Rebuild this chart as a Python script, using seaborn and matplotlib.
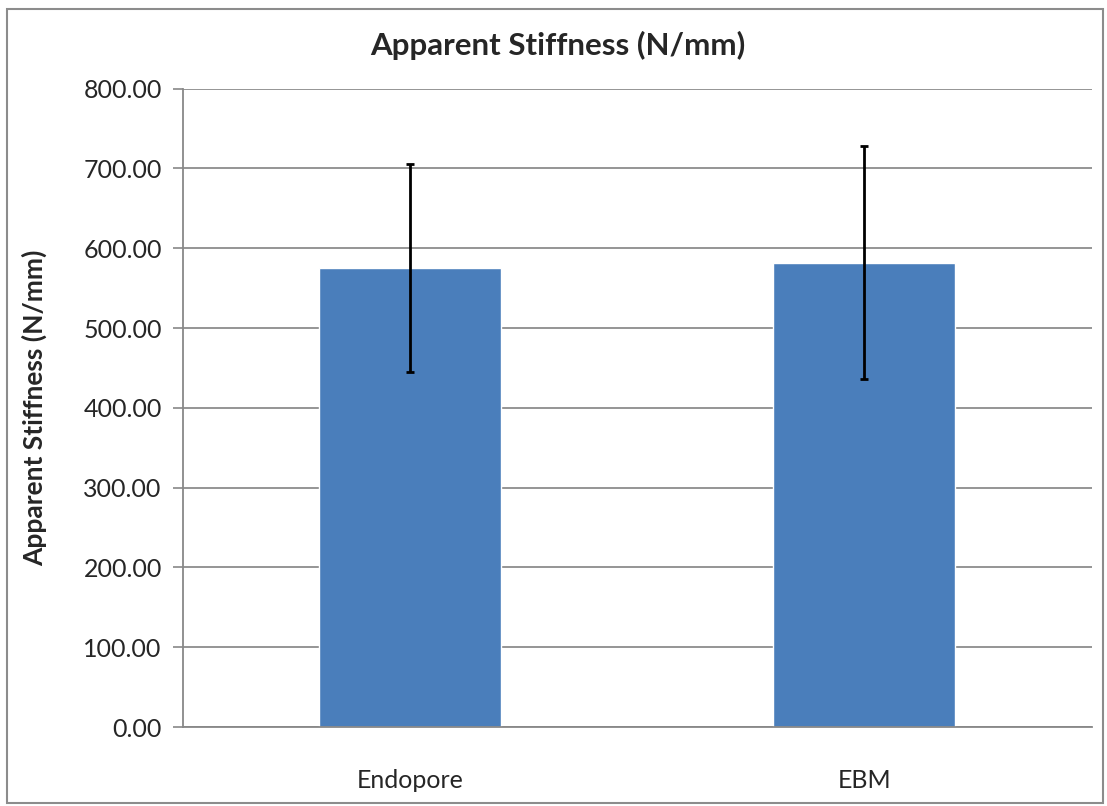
import numpy as np
import pandas as pd
import matplotlib
matplotlib.use("Agg")
import matplotlib.pyplot as plt
from matplotlib.patches import Rectangle
import seaborn as sns

# data
groups = ["Endopore", "EBM"]
stiffness = [575.0, 582.0]
stiffness_sd = [130.0, 146.0]
y_ticks = [0, 100, 200, 300, 400, 500, 600, 700, 800]

df = pd.DataFrame({"group": groups, "stiffness": stiffness})

sns.set_style("white")
plt.rcParams['font.family'] = ['Lato', 'DejaVu Sans']

fig = plt.figure(figsize=(11.07, 8.06), dpi=100)
ax = fig.add_axes([0.165, 0.098, 0.821, 0.792])

sns.barplot(data=df, x="group", y="stiffness", color="#4A7EBB", saturation=1,
            width=0.4, errorbar=None, ax=ax, zorder=2)
ax.errorbar(np.arange(len(groups)), stiffness, yerr=stiffness_sd, fmt="none",
            ecolor="black", elinewidth=2, capsize=3, capthick=2, zorder=3)

ax.set_xlim(-0.5, len(groups) - 0.5)
ax.set_ylim(0, 800)
ax.set_yticks(y_ticks)
ax.set_yticklabels([f"{v:.2f}" for v in y_ticks], fontsize=18)
ax.set_xticks(np.arange(len(groups)))
ax.set_xticklabels(groups, fontsize=18)
# category boundary tick marks like Excel
ax.set_xticks([-0.5, 0.5, 1.5], minor=True)
ax.tick_params(axis="x", which="major", length=0, pad=30)
ax.tick_params(axis="x", which="minor", length=7, color="#888888", width=1.2, direction="out")
ax.tick_params(axis="y", length=7, color="#888888", width=1.2, direction="out", left=True, pad=8)

ax.grid(axis="y", color="#8c8c8c", linewidth=1.3, zorder=0)
ax.set_axisbelow(True)
for s in ["top", "right"]:
    ax.spines[s].set_visible(False)
ax.spines["left"].set_color("#888888")
ax.spines["bottom"].set_color("#888888")
ax.spines["left"].set_linewidth(1.3)
ax.spines["bottom"].set_linewidth(1.3)

ax.set_xlabel("")
ax.set_ylabel("Apparent Stiffness (N/mm)", fontsize=19, fontweight="bold")
ax.yaxis.set_label_coords(-0.149, 0.5)
fig.text(0.504, 0.944, "Apparent Stiffness (N/mm)", ha="center", va="center",
         fontsize=22.5, fontweight="bold")

fig.patches.append(Rectangle((0.006, 0.004), 0.99, 0.985, transform=fig.transFigure,
                             fill=False, edgecolor="#8c8c8c", linewidth=1.5))

fig.savefig("out.png", dpi=100)
